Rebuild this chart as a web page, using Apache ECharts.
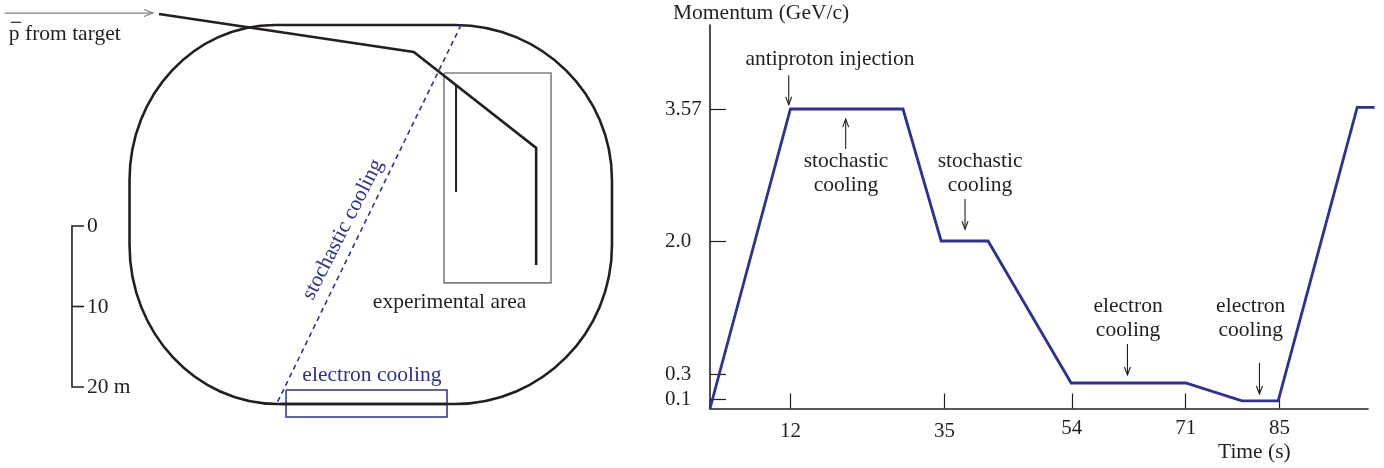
<!DOCTYPE html>
<html><head><meta charset="utf-8">
<style>html,body{margin:0;padding:0;background:#fff}#c{width:1384px;height:468px}</style>
<script src="https://cdn.jsdelivr.net/npm/echarts@6/dist/echarts.min.js"></script>
</head><body><div id="c"></div>
<script>
// ---------- Right panel: momentum cycle ----------
const timeValues     = [0, 12, 28.8, 34.5, 41.5, 53.9, 71, 79.4, 84.8, 96.6, 99.2];
const momentumValues = [0, 3.57, 3.57, 2.0, 2.0, 0.228, 0.228, 0.08, 0.08, 3.59, 3.59];
const timeTicks = [12, 35, 54, 71, 85];
const momentumTicks = [0.1, 0.3, 2.0, 3.57];
const momentumTickLabels = ['0.1', '0.3', '2.0', '3.57'];
// the momentum axis is not linear in the original: knots of the drawn scale
const momentumKnots = [0, 0.1, 0.3, 2.0, 3.57];
const scaleKnots    = [0, 9.5, 34.5, 167.5, 299.5];
const scaleMax = 383.5;
const cycleNotes = [
  ['antiproton injection', 17.9, 4.16],
  ['stochastic\ncooling', 20.3, 2.80],
  ['stochastic\ncooling', 40.3, 2.80],
  ['electron\ncooling', 62.4, 1.005],
  ['electron\ncooling', 80.7, 1.005]
];
const cycleArrows = [
  [11.75, 3.97, 11.75, 3.62],
  [20.25, 3.094, 20.25, 3.45],
  [38.06, 2.5, 38.06, 2.14],
  [62.3, 0.683, 62.3, 0.292],
  [82.0, 0.44, 82.0, 0.14]
];
// ---------- Left panel: ring plan, in metres ----------
const ringCorners = [ // alternating straight / curved sections
  [34.16,-24.97],[56.52,-24.97],[76.02,-5.71],[76.02,2.36],
  [56.52,22.11],[34.53,22.11],[16.09,2.36],[16.09,-5.71]
];
const injectionX = [19.75, 51.4, 66.6, 66.6];
const injectionY = [-26.34, -21.61, -9.69, 4.84];
const branchX = [56.65, 56.65];
const branchY = [-17.52, -4.22];
const stochasticX = [57.27, 34.41];
const stochasticY = [-24.97, 22.0];
const areaBoxX = [55.15, 68.45, 68.45, 55.15, 55.15];
const areaBoxY = [-19.01, -19.01, 7.07, 7.07, -19.01];
const coolerBoxX = [35.53, 55.53, 55.53, 35.53, 35.53];
const coolerBoxY = [20.37, 20.37, 23.73, 23.73, 20.37];
const coolerLineX = [34.78, 55.53];
const coolerLineY = [22.11, 22.11];
const scaleBarX = [10.43, 8.94, 8.94, 10.43];
const scaleBarY = [0, 0, 20, 20];
const scaleMidX = [8.94, 10.43];
const scaleMidY = [10, 10];
const pBarX = [1.37, 2.6];
const pBarY = [-25.3, -25.3];
const beamArrow = [[0.6, -26.45, 19, -26.45]];
const planNotes = [
  ['p from target', 1.1, -23.8, '#231f20', 0, 'left'],
  ['0', 10.8, 0.1, '#231f20', 0, 'left'],
  ['10', 10.8, 10.1, '#231f20', 0, 'left'],
  ['20 m', 10.8, 20.1, '#231f20', 0, 'left'],
  ['experimental area', 55.84, 9.5, '#231f20', 0, 'center'],
  ['electron cooling', 46.2, 18.5, '#2e3192', 0, 'center'],
  ['stochastic cooling', 42.6, 0.45, '#2e3192', 63, 'center']
];

const INK = '#231f20', BLUE = '#2e3192', GREY = '#808080';
const FONT = '"Liberation Serif", "Times New Roman", serif';
const FS = 21.5, TICK_FS = 21;

function toScale(p) {
  const k = momentumKnots, s = scaleKnots;
  let i = 0;
  while (i < k.length - 2 && p > k[i + 1]) i++;
  return s[i] + (p - k[i]) * (s[i + 1] - s[i]) / (k[i + 1] - k[i]);
}
function zip(xs, ys) { return xs.map((x, i) => [x, ys[i]]); }

function plainLine(xs, ys, color, width, extra) {
  return Object.assign({
    type: 'line', xAxisIndex: 0, yAxisIndex: 0, data: zip(xs, ys), showSymbol: false, symbol: 'none',
    silent: true, animation: false, clip: false,
    lineStyle: { color, width, cap: 'butt', join: 'miter' }
  }, extra || {});
}
function arrowRender(color, width, headLen, headW) {
  return function (params, api) {
    const a = api.coord([api.value(0), api.value(1)]);
    const b = api.coord([api.value(2), api.value(3)]);
    const dx = b[0] - a[0], dy = b[1] - a[1], L = Math.hypot(dx, dy) || 1;
    const ux = dx / L, uy = dy / L;
    const h1 = [b[0] - ux * headLen - uy * headW, b[1] - uy * headLen + ux * headW];
    const h2 = [b[0] - ux * headLen + uy * headW, b[1] - uy * headLen - ux * headW];
    const st = { stroke: color, lineWidth: width, fill: null };
    return { type: 'group', children: [
      { type: 'polyline', shape: { points: [a, b] }, style: st },
      { type: 'polyline', shape: { points: [h1, b, h2] }, style: st }
    ] };
  };
}
function textSeries(rows, axis, lineH) {
  return {
    type: 'custom', xAxisIndex: axis, yAxisIndex: axis, silent: true, animation: false, clip: false,
    data: rows.map((r, i) => [r[1], r[2], i]),
    renderItem(params, api) {
      const r = rows[params.dataIndex];
      const c = api.coord([api.value(0), api.value(1)]);
      return { type: 'text', x: c[0], y: c[1], rotation: (r[4] || 0) * Math.PI / 180,
        style: { text: r[0], fill: r[3] || INK, font: FS + 'px ' + FONT, align: r[5] || 'center',
          verticalAlign: 'middle', lineHeight: lineH } };
    }
  };
}

const ringSeries = {
  type: 'custom', xAxisIndex: 0, yAxisIndex: 0, silent: true, animation: false, clip: false,
  data: [[ringCorners[0][0], ringCorners[0][1]]],
  renderItem(params, api) {
    const P = ringCorners.map(p => api.coord(p));
    const K = 0.5523;
    let d = 'M' + P[0][0] + ' ' + P[0][1];
    for (let i = 0; i < 8; i += 2) {
      const s = P[i + 1], e = P[(i + 2) % 8];
      // each straight side is followed by a quarter-ellipse corner
      const horiz = (i % 4 === 0);
      const c1 = horiz ? [s[0] + (e[0] - s[0]) * K, s[1]] : [s[0], s[1] + (e[1] - s[1]) * K];
      const c2 = horiz ? [e[0], e[1] - (e[1] - s[1]) * K] : [e[0] - (e[0] - s[0]) * K, e[1]];
      d += 'L' + s[0] + ' ' + s[1] + 'C' + c1.join(' ') + ' ' + c2.join(' ') + ' ' + e.join(' ');
    }
    return { type: 'path', shape: { pathData: d + 'Z' }, style: { stroke: INK, lineWidth: 2.6, fill: null } };
  }
};

const chart = echarts.init(document.getElementById('c'), null, { renderer: 'canvas' });
chart.setOption({
  animation: false,
  backgroundColor: '#ffffff',
  grid: [
    { left: 0, top: 0, width: 640, height: 468 },
    { left: 710, top: 25, width: 658, height: 383.5 },
    // same time scale, slightly wider, so the curve may run past the end of the drawn axis
    { left: 710, top: 25, width: 670, height: 383.5 }
  ],
  xAxis: [
    { gridIndex: 0, type: 'value', min: 0, max: 79.5, show: false },
    { gridIndex: 1, type: 'value', min: 0, max: 98.2, splitLine: { show: false },
      axisLine: { lineStyle: { color: INK, width: 1.6 } },
      axisTick: { show: true, inside: true, length: 15, customValues: timeTicks, lineStyle: { color: INK, width: 1.2 } },
      axisLabel: { show: true, customValues: timeTicks, margin: 9, color: INK, fontFamily: FONT, fontSize: TICK_FS,
        formatter: v => (v < 40 ? '{low|' + v + '}' : '{up|' + v + '}'),
        rich: { low: { fontFamily: FONT, fontSize: TICK_FS, color: INK, padding: [3, 0, 0, 0] },
                up: { fontFamily: FONT, fontSize: TICK_FS, color: INK } } },
      name: 'Time (s)', nameLocation: 'end', nameGap: -150, nameMoveOverlap: false,
      nameTextStyle: { color: INK, fontFamily: FONT, fontSize: FS, align: 'left', verticalAlign: 'top', padding: [33, 0, 0, 0] } },
    { gridIndex: 2, type: 'value', min: 0, max: 100, show: false }
  ],
  yAxis: [
    { gridIndex: 0, type: 'value', min: -28.07, max: 30.06, inverse: true, show: false },
    { gridIndex: 1, type: 'value', min: 0, max: scaleMax, splitLine: { show: false },
      axisLine: { show: true, lineStyle: { color: INK, width: 1.6 } },
      axisTick: { show: true, inside: true, length: 16, customValues: momentumTicks.map(toScale), lineStyle: { color: INK, width: 1.2 } },
      axisLabel: { show: true, customValues: momentumTicks.map(toScale), margin: 45, align: 'left', color: INK, fontFamily: FONT, fontSize: TICK_FS,
        formatter: v => momentumTickLabels[momentumTicks.map(toScale).indexOf(v)] },
      name: 'Momentum (GeV/c)', nameLocation: 'end', nameGap: 1,
      nameTextStyle: { color: INK, fontFamily: FONT, fontSize: FS, align: 'left', padding: [0, 0, 0, -37] } },
    { gridIndex: 2, type: 'value', min: 0, max: scaleMax, show: false }
  ],
  series: [
    ringSeries,
    plainLine(areaBoxX, areaBoxY, GREY, 1.6),
    plainLine(injectionX, injectionY, INK, 2.6),
    plainLine(branchX, branchY, INK, 2),
    plainLine(stochasticX, stochasticY, BLUE, 1.6, { lineStyle: { color: BLUE, width: 1.6, type: [5, 4] } }),
    plainLine(coolerBoxX, coolerBoxY, BLUE, 1.5),
    plainLine(coolerLineX, coolerLineY, INK, 2.6),
    plainLine(scaleBarX, scaleBarY, INK, 1.6),
    plainLine(scaleMidX, scaleMidY, INK, 1.6),
    plainLine(pBarX, pBarY, INK, 1.2),
    { type: 'custom', xAxisIndex: 0, yAxisIndex: 0, silent: true, animation: false, clip: false,
      encode: { x: [0, 2], y: [1, 3] }, data: beamArrow, renderItem: arrowRender(GREY, 1.2, 9, 3.5) },
    textSeries(planNotes, 0, 24),
    // right panel
    { type: 'line', xAxisIndex: 2, yAxisIndex: 2, showSymbol: false, symbol: 'none', silent: true, animation: false,
      data: timeValues.map((t, i) => [t, toScale(momentumValues[i])]),
      lineStyle: { color: BLUE, width: 2.8, join: 'miter' } },
    { type: 'custom', xAxisIndex: 1, yAxisIndex: 1, silent: true, animation: false, clip: false,
      encode: { x: [0, 2], y: [1, 3] }, data: cycleArrows.map(a => [a[0], toScale(a[1]), a[2], toScale(a[3])]),
      renderItem: arrowRender(INK, 1.1, 8, 3) },
    textSeries(cycleNotes.map(n => [n[0], n[1], toScale(n[2])]), 1, 24)
  ]
});
</script></body></html>
